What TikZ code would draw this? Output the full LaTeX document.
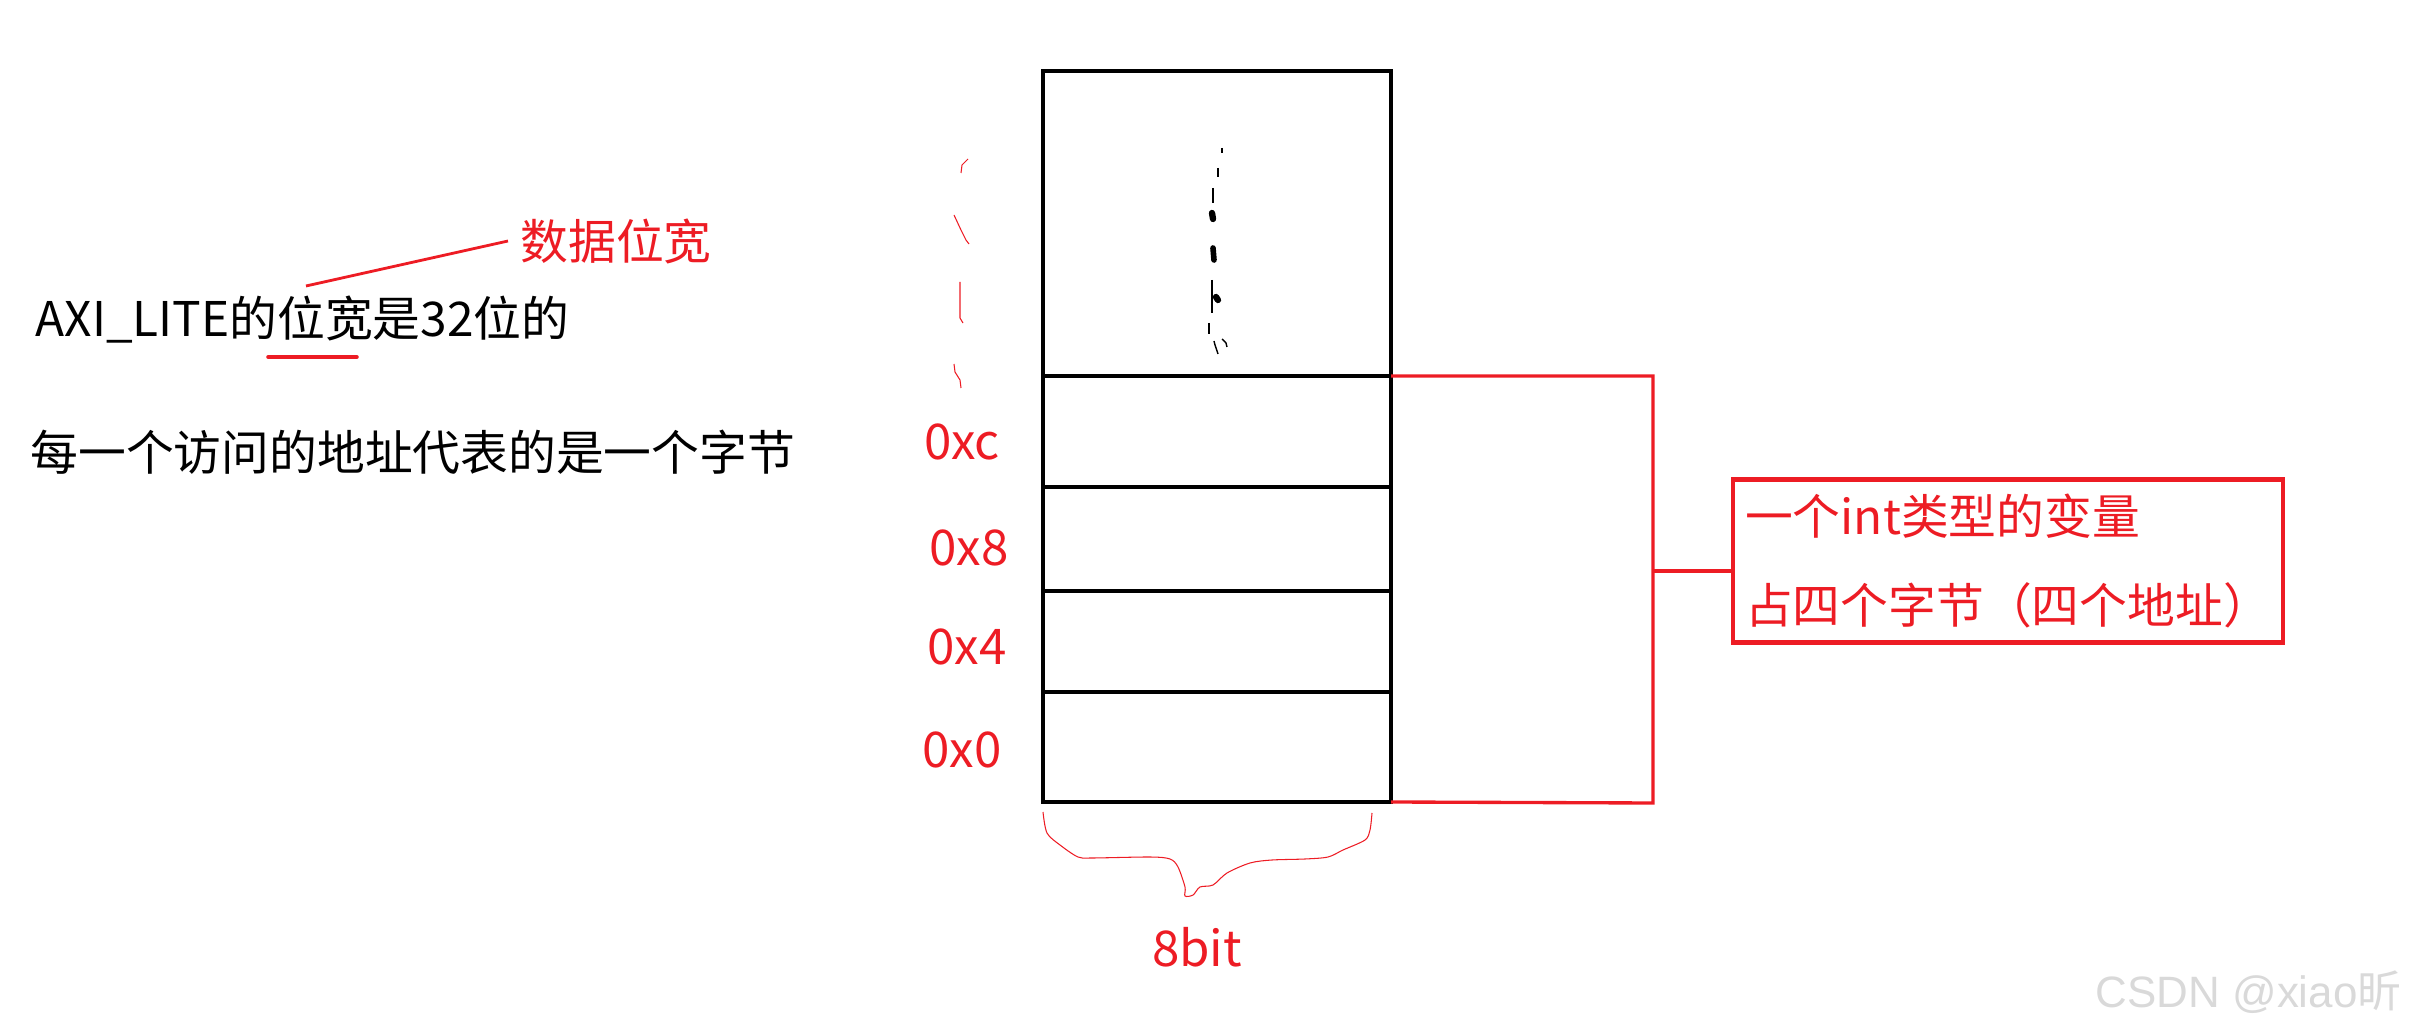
\documentclass[tikz,border=0pt]{standalone}
\usepackage{fontspec}
\usetikzlibrary{positioning}
\newfontfamily\cjk{Noto Sans CJK SC}
\setsansfont{Liberation Sans}
\definecolor{paintred}{RGB}{237,28,36}

\begin{document}
\begin{tikzpicture}[-,auto]
\tikzstyle{cell}=[draw=black,line width=1.35pt,minimum width=3.48cm,inner sep=0pt,outer sep=0pt]
\tikzstyle{addr}=[text=paintred,font=\cjk\fontsize{14}{17}\selectfont]
\tikzstyle{plain}=[anchor=west,font=\cjk\fontsize{13.6}{17}\selectfont]
\tikzstyle{note}=[draw=paintred,line width=1.15pt,text=paintred,align=left,minimum width=5.31cm,minimum height=1.63cm,font=\cjk\fontsize{13.6}{25.3}\selectfont]
\tikzstyle{bracket}=[draw=paintred,line width=0.95pt]
\tikzstyle{redpen}=[draw=paintred,line width=0.8pt]
\tikzstyle{sketch}=[draw=paintred,line width=0.3pt]
\tikzstyle{scribble}=[draw=black,line width=0.4pt]
\useasboundingbox (0,0) rectangle (24.18,-10.31);

\node [plain] (axi) at (0.23,-3.20) {AXI\_LITE的位宽是32位的};
\node [plain] (addrnote) at (0.18,-4.52) {每一个访问的地址代表的是一个字节};
\node [plain,text=paintred] (dw) at (5.08,-2.41) {数据位宽};
\coordinate (foot) at (3.06,-2.86);
\draw [redpen] (foot) -- (dw.west);
\draw [redpen,line width=1pt,line cap=round] (2.68,-3.57) -- (3.57,-3.57);

\node [cell,minimum height=3.05cm,anchor=north west] (top) at (10.43,-0.71) {};
\node [cell,minimum height=1.11cm,below=0pt of top] (cellc) {};
\node [cell,minimum height=1.04cm,below=0pt of cellc] (cell8) {};
\node [cell,minimum height=1.01cm,below=0pt of cell8] (cell4) {};
\node [cell,minimum height=1.10cm,below=0pt of cell4] (cell0) {};

\node [addr] (ac) at (9.62,-4.42) {0xc};
\node [addr] (a8) at (9.69,-5.48) {0x8};
\node [addr] (a4) at (9.67,-6.47) {0x4};
\node [addr] (a0) at (9.62,-7.50) {0x0};

\draw [scribble] (12.22,-1.48) -- (12.22,-1.53);
\draw [scribble] (12.18,-1.68) -- (12.18,-1.77);
\draw [scribble] (12.13,-1.88) -- (12.13,-2.03);
\draw [scribble,line width=1.8pt,line cap=round] (12.12,-2.13) -- (12.13,-2.19);
\draw [scribble,line width=1.6pt,line cap=round] (12.13,-2.48) -- (12.14,-2.60);
\draw [scribble] (12.12,-2.80) -- (12.12,-3.13);
\draw [scribble,line width=1.8pt,line cap=round] (12.16,-2.97) -- (12.18,-3.00);
\draw [scribble] (12.09,-3.23) -- (12.09,-3.34);
\draw [scribble] (12.14,-3.41) -- (12.15,-3.45) -- (12.18,-3.54);
\draw [scribble] (12.22,-3.39) -- (12.26,-3.43) -- (12.27,-3.47);

\draw [sketch] (9.61,-1.73) -- (9.62,-1.65) -- (9.68,-1.59);
\draw [sketch] (9.54,-2.15) -- (9.61,-2.30) -- (9.66,-2.40) -- (9.69,-2.44);
\draw [sketch] (9.60,-2.82) -- (9.60,-3.18) -- (9.63,-3.23);
\draw [sketch] (9.54,-3.64) -- (9.55,-3.72) -- (9.60,-3.80) -- (9.61,-3.88);

\draw [sketch] plot [smooth,tension=0.5] coordinates {(10.43,-8.12) (10.47,-8.33) (10.60,-8.45) (10.78,-8.57) (10.92,-8.58) (11.50,-8.57) (11.70,-8.59) (11.78,-8.67) (11.85,-8.87) (11.85,-8.96) (11.93,-8.95) (12.00,-8.87) (12.13,-8.85) (12.27,-8.73) (12.50,-8.63) (12.72,-8.60) (13.05,-8.59) (13.28,-8.57) (13.43,-8.50) (13.65,-8.40) (13.70,-8.30) (13.72,-8.13)};
\node [addr] (width) at (11.97,-9.47) {8bit};

\node [note] (note) at (20.08,-5.61) {一个int类型的变量\\占四个字节（四个地址）};
\coordinate (jt) at (16.53,-3.76);
\coordinate (jm) at (16.53,-5.71);
\coordinate (jb) at (16.53,-8.03);
\draw [bracket] (cellc.north east) -- (jt) -- (jb) -- (cell0.south east);
\draw [bracket] (jm) -- (note.west |- jm);

\node [anchor=east,text=black!15,font=\sffamily\fontsize{12.5}{15}\selectfont] (wm) at (24.14,-9.92) {CSDN @xiao{\cjk 昕}};
\end{tikzpicture}
\end{document}
